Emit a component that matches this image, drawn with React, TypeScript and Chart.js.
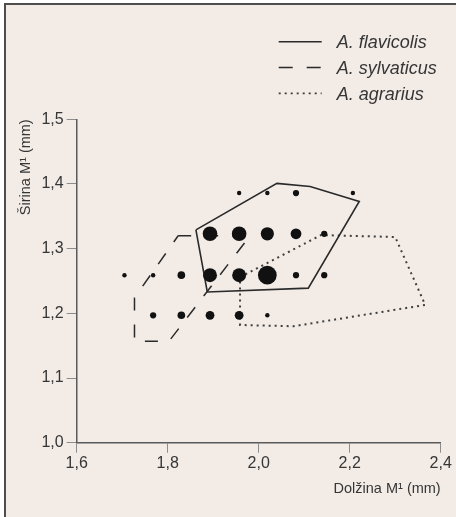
import React, { useEffect, useRef } from 'react';
import { Chart, registerables } from 'chart.js';

Chart.register(...registerables);

// ---- data ----
const seriesNames = ['A. flavicolis', 'A. sylvaticus', 'A. agrarius'];

const xTickLabels = ['1,6', '1,8', '2,0', '2,2', '2,4'];
const yTickLabels = ['1,0', '1,1', '1,2', '1,3', '1,4', '1,5'];

const xTitle = 'Dolžina M¹ (mm)';
const yTitle = 'Širina M¹ (mm)';

// occupied measurement cells: length, width and frequency class
const dotLength = [
  1.957, 2.019, 2.082, 2.207,
  1.893, 1.957, 2.019, 2.082, 2.144,
  1.705, 1.768, 1.83, 1.893, 1.957, 2.019, 2.082, 2.144,
  1.768, 1.83, 1.893, 1.957, 2.019,
];
const dotWidth = [
  1.386, 1.386, 1.386, 1.386,
  1.323, 1.323, 1.323, 1.323, 1.323,
  1.259, 1.259, 1.259, 1.259, 1.259, 1.259, 1.259, 1.259,
  1.197, 1.197, 1.197, 1.197, 1.197,
];
const dotCount = [
  1, 1, 2, 1,
  11, 11, 9, 6, 2,
  1, 1, 3, 10, 10, 18, 2, 2,
  2, 3, 4, 4, 1,
];

// convex hulls of each species
const flavicolisLength = [1.862, 2.04, 2.113, 2.221, 2.109, 1.887];
const flavicolisWidth = [1.329, 1.401, 1.396, 1.373, 1.239, 1.233];
const sylvaticusLength = [1.823, 1.981, 1.803, 1.727, 1.727];
const sylvaticusWidth = [1.32, 1.32, 1.157, 1.157, 1.224];
const agrariusLength = [1.959, 2.137, 2.3, 2.366, 2.076, 1.959];
const agrariusWidth = [1.256, 1.321, 1.318, 1.213, 1.18, 1.182];

// ---- styles ----
const FONT = '"Liberation Sans", Arial, sans-serif';
const TEXT = '#363636';
const BG = '#f2ebe6';
const lineStyles = [
  { color: '#2a2a2a', width: 1.6, dash: [] as number[], legendDash: [] as number[] },
  { color: '#2a2a2a', width: 1.5, dash: [13, 14], legendDash: [14, 14] },
  { color: '#3e3e3e', width: 2, dash: [2, 4], legendDash: [2, 4] },
];

const closed = (xs: number[], ys: number[]) => {
  const pts = xs.map((x, i) => ({ x, y: ys[i] }));
  pts.push({ ...pts[0] });
  return pts;
};

const legendPlugin = {
  id: 'lineLegend',
  afterDraw(chart: any) {
    const ctx = chart.ctx as CanvasRenderingContext2D;
    const x0 = chart.chartArea.right - 162;
    ctx.save();
    seriesNames.forEach((name, i) => {
      const st = lineStyles[i];
      const y = 41.7 + i * 25.8;
      ctx.strokeStyle = st.color;
      ctx.lineWidth = i === 2 ? 1.8 : 1.5;
      ctx.setLineDash(st.legendDash);
      ctx.beginPath();
      ctx.moveTo(x0, y);
      ctx.lineTo(x0 + 43, y);
      ctx.stroke();
      ctx.setLineDash([]);
      ctx.font = `italic 18px ${FONT}`;
      ctx.fillStyle = TEXT;
      ctx.textBaseline = 'alphabetic';
      ctx.textAlign = 'left';
      ctx.fillText(name, x0 + 58, y + 6.5);
    });
    ctx.restore();
  },
};

export default function App() {
  const ref = useRef<HTMLCanvasElement>(null);

  useEffect(() => {
    document.body.style.margin = '0';
    document.body.style.background = '#ffffff';
    const hulls = [
      closed(flavicolisLength, flavicolisWidth),
      closed(sylvaticusLength, sylvaticusWidth),
      closed(agrariusLength, agrariusWidth),
    ];
    const chart = new Chart(ref.current as HTMLCanvasElement, {
      type: 'scatter',
      data: {
        datasets: [
          {
            type: 'bubble',
            label: 'n',
            data: dotLength.map((x, i) => ({ x, y: dotWidth[i], r: 2.2 * Math.sqrt(dotCount[i]) })),
            backgroundColor: '#111111',
            borderWidth: 0,
            order: 0,
          } as any,
          ...hulls.map((pts, i) => ({
            type: 'scatter',
            label: seriesNames[i],
            data: pts,
            showLine: true,
            pointRadius: 0,
            borderColor: lineStyles[i].color,
            borderWidth: lineStyles[i].width,
            borderDash: lineStyles[i].dash,
            borderCapStyle: 'butt',
            borderJoinStyle: 'miter',
            fill: false,
            tension: 0,
            order: 1,
          })) as any,
        ],
      },
      options: {
        responsive: false,
        devicePixelRatio: 1,
        animation: false,
        events: [],
        layout: { padding: { left: 0, top: 119.3, right: 15.3, bottom: 19.4 } },
        plugins: { legend: { display: false }, tooltip: { enabled: false } },
        scales: {
          x: {
            type: 'linear',
            min: 1.6,
            max: 2.4,
            afterFit: (s: any) => { s.height = 54.9; },
            ticks: {
              stepSize: 0.2,
              autoSkip: false,
              maxRotation: 0,
              padding: 1,
              color: TEXT,
              font: { family: FONT, size: 16 },
              callback: (_v: any, i: number) => xTickLabels[i],
            },
            grid: { display: true, drawOnChartArea: false, drawTicks: true, tickLength: 10, color: '#8c8c8c', lineWidth: 1 },
            border: { display: true, color: '#5a5a5a', width: 1.5 },
            title: { display: true, text: xTitle, align: 'end', color: TEXT, font: { family: FONT, size: 14.5 }, padding: 0 },
          },
          y: {
            type: 'linear',
            min: 1.0,
            max: 1.5,
            afterFit: (s: any) => { s.width = 76.7; },
            ticks: {
              stepSize: 0.1,
              autoSkip: false,
              padding: 3,
              color: TEXT,
              font: { family: FONT, size: 16 },
              callback: (_v: any, i: number) => yTickLabels[i],
            },
            grid: { display: true, drawOnChartArea: false, drawTicks: true, tickLength: 10, color: '#8c8c8c', lineWidth: 1 },
            border: { display: true, color: '#5a5a5a', width: 1.5 },
            title: { display: true, text: yTitle, align: 'end', color: TEXT, font: { family: FONT, size: 14.5 }, padding: { top: 17, bottom: 0 } },
          },
        },
      },
      plugins: [legendPlugin],
    } as any);
    return () => chart.destroy();
  }, []);

  return (
    <div style={{ position: 'relative', width: 456, height: 517, background: '#ffffff', overflow: 'hidden' }}>
      <div
        style={{
          position: 'absolute',
          left: 4,
          top: 3,
          width: 480,
          height: 540,
          background: BG,
          borderLeft: '2px solid #4e4e4e',
          borderTop: '2px solid #4e4e4e',
        }}
      />
      <canvas ref={ref} width={456} height={517} style={{ position: 'absolute', left: 0, top: 0, width: 456, height: 517 }} />
    </div>
  );
}
